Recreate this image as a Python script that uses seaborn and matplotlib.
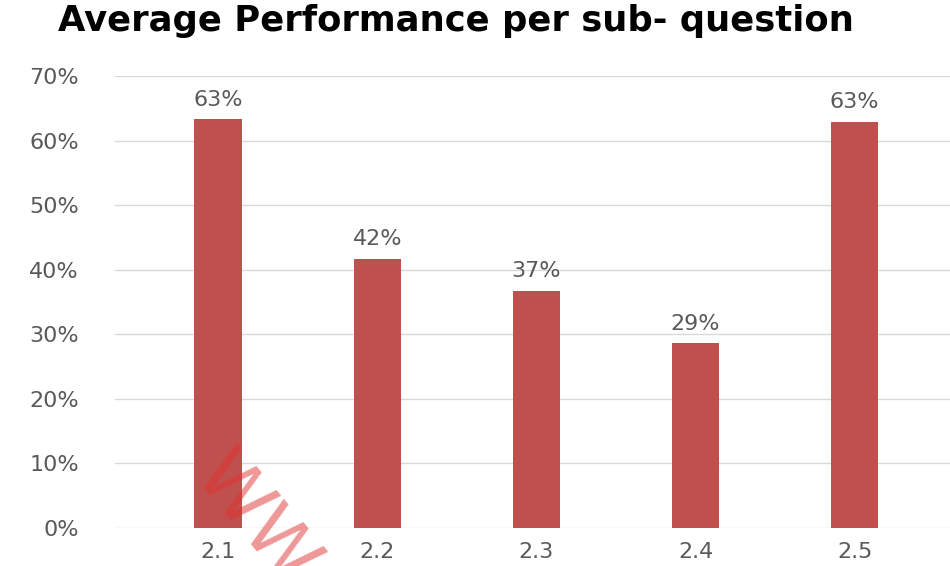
import matplotlib
matplotlib.use("Agg")
import matplotlib.pyplot as plt
import seaborn as sns
import pandas as pd

categories = ["2.1", "2.2", "2.3", "2.4", "2.5"]
values = [0.633, 0.417, 0.367, 0.286, 0.629]
labels = ["63%", "42%", "37%", "29%", "63%"]
yticks = [0, 0.1, 0.2, 0.3, 0.4, 0.5, 0.6, 0.7]
ytick_labels = ["0%", "10%", "20%", "30%", "40%", "50%", "60%", "70%"]
title = "Average Performance per sub- question"

sns.set_theme(style="white")
plt.rcParams['font.family'] = ['DejaVu Sans']

df = pd.DataFrame({"cat": categories, "val": values})

fig = plt.figure(figsize=(9.5, 5.66), dpi=100)
ax = fig.add_axes([0.121, 0.0671, 0.879, 0.7986])
sns.barplot(data=df, x="cat", y="val", color="#C0504D", width=0.3, ax=ax,
            saturation=1, edgecolor="none")

ax.set_ylim(0, 0.7)
ax.set_xlim(-0.65, 4.6)
ax.set_yticks(yticks)
ax.set_yticklabels(ytick_labels, color="#595959", fontsize=16)
ax.tick_params(axis="x", colors="#595959", labelsize=16, length=0, pad=10)
ax.tick_params(axis="y", length=0, pad=26)
ax.yaxis.grid(True, color="#D9D9D9", linewidth=1)
ax.set_axisbelow(True)
for s in ax.spines.values():
    s.set_visible(False)
ax.set_xlabel("")
ax.set_ylabel("")

for i, (v, l) in enumerate(zip(values, labels)):
    ax.annotate(l, (i, v), xytext=(0, 7), textcoords="offset points",
                ha="center", va="bottom", color="#595959", fontsize=16)

fig.text(0.061, 0.963, title, fontsize=25.5, fontweight="bold", color="black",
         ha="left", va="center")

fig.text(0.268, 0.08, "WW", fontsize=54, color="#E03030", alpha=0.5,
         rotation=-50, ha="center", va="center")

fig.savefig("out.png", dpi=100)
